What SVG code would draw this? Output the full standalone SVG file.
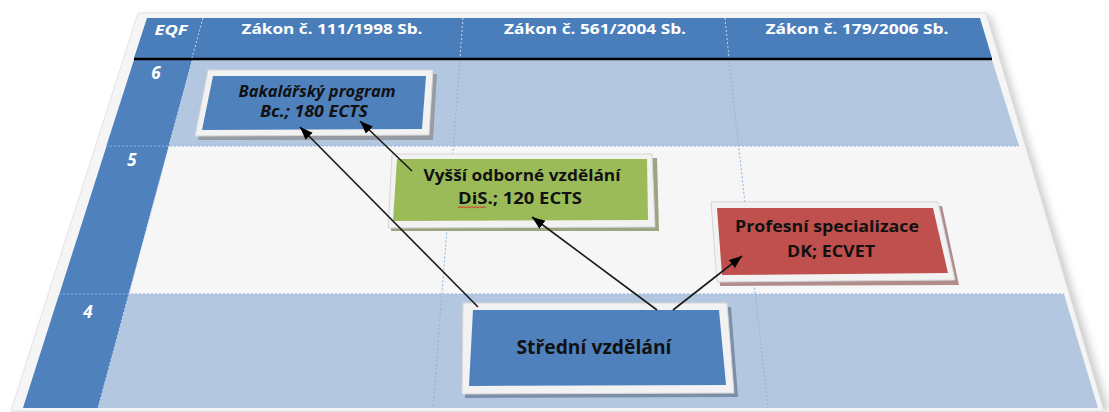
<svg xmlns="http://www.w3.org/2000/svg" width="1109" height="412" viewBox="0 0 1109 412">
<style>
.hdr{font-family:"Open Sans","Liberation Sans",sans-serif;font-weight:700;font-size:14px;fill:#ffffff;text-anchor:middle}
.eqf{font-family:"Open Sans","Liberation Sans",sans-serif;font-weight:700;font-style:italic;font-size:14px;fill:#ffffff;text-anchor:middle}
.num{font-family:"Open Sans","Liberation Sans",sans-serif;font-weight:700;font-style:italic;font-size:17px;fill:#ffffff;text-anchor:middle}
.lbl{font-family:"Open Sans","Liberation Sans",sans-serif;font-weight:700;font-size:16px;fill:#111111;text-anchor:middle}
.big{font-size:20px}
.dot{stroke:#8db3e2;stroke-width:1;stroke-dasharray:2,2;fill:none}
.doth{stroke:#c5d7ef;stroke-width:1;stroke-dasharray:2,2;fill:none}
.frame{fill:#f2f2f2;stroke:#d6d6d6;stroke-width:1}
.conn{stroke:#1a1a1a;stroke-width:1.6;fill:none;marker-end:url(#arr)}
</style>
<defs>
<marker id="arr" markerUnits="userSpaceOnUse" markerWidth="14" markerHeight="11" refX="13" refY="5" orient="auto">
<path d="M0,0 L13,5 L0,10 z" fill="#000000"/>
</marker>
<filter id="blur" x="-10%" y="-10%" width="120%" height="120%"><feGaussianBlur stdDeviation="4"/></filter>
</defs>
<rect width="1109" height="412" fill="#ffffff"/>
<g id="table">
<polygon points="146,16 990,16 1109,412 16,412" fill="#9a9a9a" opacity="0.55" filter="url(#blur)"/>
<polygon points="138,13 986,13 1104,411 11,411" fill="#f5f5f5" stroke="#e2e2e2" stroke-width="1"/>
<polygon points="147,18 980,18 992,58 134,58" fill="#4a7ebb"/>
<polygon points="134,60 992,60 1019,146 106,146" fill="#b4c7e0"/>
<polygon points="106,146 1019,146 1064,294 59,294" fill="#f6f6f6"/>
<polygon points="59,294 1064,294 1098,408 23,408" fill="#b4c7e0"/>
<polygon points="134,60 192,60 98,408 23,408" fill="#4f81bd"/>
<line x1="134" y1="59" x2="992" y2="59" stroke="#000000" stroke-width="2.5"/>
<line x1="203" y1="18" x2="192" y2="58" class="doth"/>
<line x1="463" y1="18" x2="460" y2="58" class="doth"/>
<line x1="725" y1="18" x2="729" y2="58" class="doth"/>
<line x1="192" y1="61" x2="98" y2="408" class="doth"/>
<line x1="460" y1="61" x2="433" y2="408" class="dot"/>
<line x1="729" y1="61" x2="768" y2="408" class="dot"/>
<line x1="106" y1="146" x2="1019" y2="146" class="dot"/>
<line x1="59" y1="294" x2="1064" y2="294" class="dot"/>
<text x="171" y="35" class="eqf" textLength="33" lengthAdjust="spacingAndGlyphs">EQF</text>
<text x="332" y="34" class="hdr" textLength="181" lengthAdjust="spacingAndGlyphs">Zákon č. 111/1998 Sb.</text>
<text x="595" y="34" class="hdr" textLength="182" lengthAdjust="spacingAndGlyphs">Zákon č. 561/2004 Sb.</text>
<text x="857" y="34" class="hdr" textLength="183" lengthAdjust="spacingAndGlyphs">Zákon č. 179/2006 Sb.</text>
<text x="156" y="79" class="num">6</text>
<text x="132" y="166" class="num">5</text>
<text x="88" y="318" class="num">4</text>
</g>
<g id="node-bakalarsky">
<polygon points="211,74 437,74 433,140 198,140" fill="#8a8a8a" opacity="0.7"/>
<polygon points="208,70 433,70 429,135 195,136" class="frame"/>
<polygon points="213,76 426,76 422,129 202,130" fill="#4f81bd"/>
<text x="317" y="97" class="lbl" font-style="italic" textLength="157" lengthAdjust="spacingAndGlyphs">Bakalářský program</text>
<text x="314" y="117" class="lbl" font-style="italic" textLength="108" lengthAdjust="spacingAndGlyphs">Bc.; 180 ECTS</text>
</g>
<g id="node-vos">
<polygon points="395,158 657,158 659,231 391,231" fill="#9aa582"/>
<polygon points="392,154 652,154 655,227 388,228" class="frame"/>
<polygon points="397,159 647,159 648,220 393,221" fill="#9bbb59"/>
<text x="522" y="181" class="lbl" textLength="197" lengthAdjust="spacingAndGlyphs">Vyšší odborné vzdělání</text>
<text x="520" y="204" class="lbl" textLength="124" lengthAdjust="spacingAndGlyphs">DiS.; 120 ECTS</text>
<path d="M458,208 l2,-1.5 l2,1.5 l2,-1.5 l2,1.5 l2,-1.5 l2,1.5 l2,-1.5 l2,1.5 l2,-1.5 l2,1.5 l2,-1.5 l2,1.5 l2,-1.5 l2,1.5" stroke="#e03020" stroke-width="1" fill="none"/>
</g>
<g id="node-profesni">
<polygon points="714,206 942,206 959,285 720,286" fill="#b08c8c"/>
<polygon points="711,202 938,202 955,280 717,282" class="frame"/>
<polygon points="717,208 933,208 948,273 722,275" fill="#c0504d"/>
<text x="827" y="232" class="lbl" textLength="184" lengthAdjust="spacingAndGlyphs">Profesní specializace</text>
<text x="831" y="257" class="lbl" textLength="88" lengthAdjust="spacingAndGlyphs">DK; ECVET</text>
</g>
<g id="node-stredni">
<polygon points="466,307 731,307 738,397 465,398" fill="#7c8fa8"/>
<polygon points="463,303 727,303 734,393 462,394" class="frame"/>
<polygon points="473,310 719,310 726,385 469,386" fill="#4f81bd"/>
<text x="594" y="354" class="lbl big" textLength="155" lengthAdjust="spacingAndGlyphs">Střední vzdělání</text>
</g>
<g id="connectors">
<line x1="478" y1="307" x2="300" y2="127" class="conn"/>
<line x1="412" y1="171" x2="360" y2="121" class="conn"/>
<line x1="657" y1="310" x2="532" y2="217" class="conn"/>
<line x1="673" y1="310" x2="742" y2="256" class="conn"/>
</g>
</svg>
